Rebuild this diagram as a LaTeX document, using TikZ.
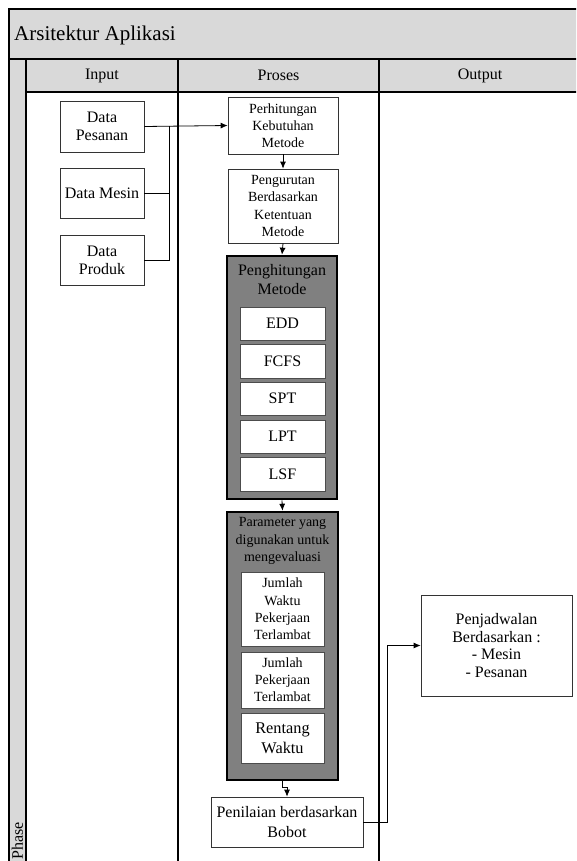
\documentclass[tikz,border=0pt]{standalone}
\usepackage{fontspec}
\setmainfont{Liberation Serif}
\usetikzlibrary{arrows.meta}
\definecolor{bandgray}{HTML}{D9D9D9}
\definecolor{darkfill}{HTML}{808080}
\begin{document}
\begin{tikzpicture}[x=1pt,y=-1pt,
  frameline/.style={line width=2.6pt, black},
  box/.style={draw=black!80, line width=0.7pt, fill=white, align=center, inner sep=0pt},
  innerbox/.style={draw=black!70, line width=0.7pt, fill=white, align=center, inner sep=0pt, minimum width=85pt},
  groupbox/.style={draw=black, line width=2.6pt, fill=darkfill, inner sep=0pt},
  big/.style={font=\fontsize{16}{18.3}\selectfont},
  small/.style={font=\fontsize{14}{17.2}\selectfont},
  arr/.style={-{Latex[length=7pt,width=6pt]}, line width=0.8pt},
  conn/.style={line width=0.8pt}
]
\useasboundingbox (0,0) rectangle (576,861);
\clip (0,0) rectangle (576,861);

% swimlane frame
\fill[bandgray] (9,9) rectangle (600,59);
\fill[bandgray] (26,59) rectangle (600,92);
\fill[bandgray] (9,59) rectangle (26,900);
\draw[frameline] (9,9) rectangle (600,900);
\draw[frameline] (9,59) -- (600,59);
\draw[frameline] (26,59) -- (26,900);
\draw[frameline] (26,92) -- (600,92);
\draw[frameline] (178,59) -- (178,900);
\draw[frameline] (379,59) -- (379,900);

\node[anchor=west, inner sep=0pt, font=\fontsize{21}{24}\selectfont] (title) at (14,35) {Arsitektur Aplikasi};
\node[big] (hIn) at (102,75.5) {Input};
\node[big] (hPr) at (278.5,75.5) {Proses};
\node[big] (hOut) at (480,75.5) {Output};
\node[big, rotate=90, anchor=west, inner sep=0pt] (phase) at (17.5,860) {Phase};

% input nodes
\node[box, big, minimum width=84pt, minimum height=51pt] (pes) at (102,126.5) {Data\\Pesanan};
\node[box, big, minimum width=84pt, minimum height=50pt] (mes) at (102,193) {Data Mesin};
\node[box, big, minimum width=84pt, minimum height=50pt] (prod) at (102,260) {Data\\Produk};

% proses nodes
\node[box, small, minimum width=110pt, minimum height=57pt] (perh) at (283,125.5) {Perhitungan\\Kebutuhan\\Metode};
\node[box, small, minimum width=110pt, minimum height=74pt] (peng) at (283,206) {Pengurutan\\Berdasarkan\\Ketentuan\\Metode};

\node[groupbox, minimum width=110pt, minimum height=243pt] (hit) at (282,377.5) {};
\node[font=\fontsize{16}{19}\selectfont, align=center, inner sep=0pt] (hitT) at (282,280) {Penghitungan\\Metode};
\node[innerbox, big, minimum height=33pt] (edd) at (282.5,323.5) {EDD};
\node[innerbox, big, minimum height=34pt] (fcfs) at (282.5,361) {FCFS};
\node[innerbox, big, minimum height=33pt] (spt) at (282.5,398.5) {SPT};
\node[innerbox, big, minimum height=33pt] (lpt) at (282.5,436.5) {LPT};
\node[innerbox, big, minimum height=34pt] (lsf) at (282.5,474) {LSF};

\node[groupbox, minimum width=111pt, minimum height=268pt] (param) at (282.5,646) {};
\node[small, align=center, inner sep=0pt] (paramT) at (282.5,541) {Parameter yang\\digunakan untuk\\mengevaluasi};
\node[innerbox, small, minimum width=83pt, minimum height=74pt] (jwpt) at (282.5,609) {Jumlah\\Waktu\\Pekerjaan\\Terlambat};
\node[innerbox, small, minimum width=83pt, minimum height=56pt] (jpt) at (282.5,680) {Jumlah\\Pekerjaan\\Terlambat};
\node[innerbox, font=\fontsize{16.3}{20}\selectfont, minimum width=83pt, minimum height=50pt] (rw) at (282.5,738) {Rentang\\Waktu};

\node[box, font=\fontsize{16}{19.3}\selectfont, minimum width=152pt, minimum height=50pt] (pen) at (287,822) {Penilaian berdasarkan\\Bobot};

% output node
\node[box, font=\fontsize{16}{17.7}\selectfont, minimum width=151pt, minimum height=101pt] (jad) at (496.5,645.5) {Penjadwalan\\Berdasarkan :\\- Mesin\\- Pesanan};

% connectors
\coordinate (j) at (169,126.5);
\draw[arr] (pes.east) -- (perh.west);
\draw[conn] (mes.east) -| (j);
\draw[conn] (prod.east) -| (j);
\draw[arr] (perh.south) -- (peng.north);
\draw[arr] (peng.south) -- (hit.north);
\draw[arr] (hit.south) -- (param.north);
\draw[arr] (param.south) -- ++(0,6) -| (pen.north);
\coordinate (k) at (387,645.5);
\draw[arr] (pen.east) -| (k) -- (jad.west);
\end{tikzpicture}
\end{document}
